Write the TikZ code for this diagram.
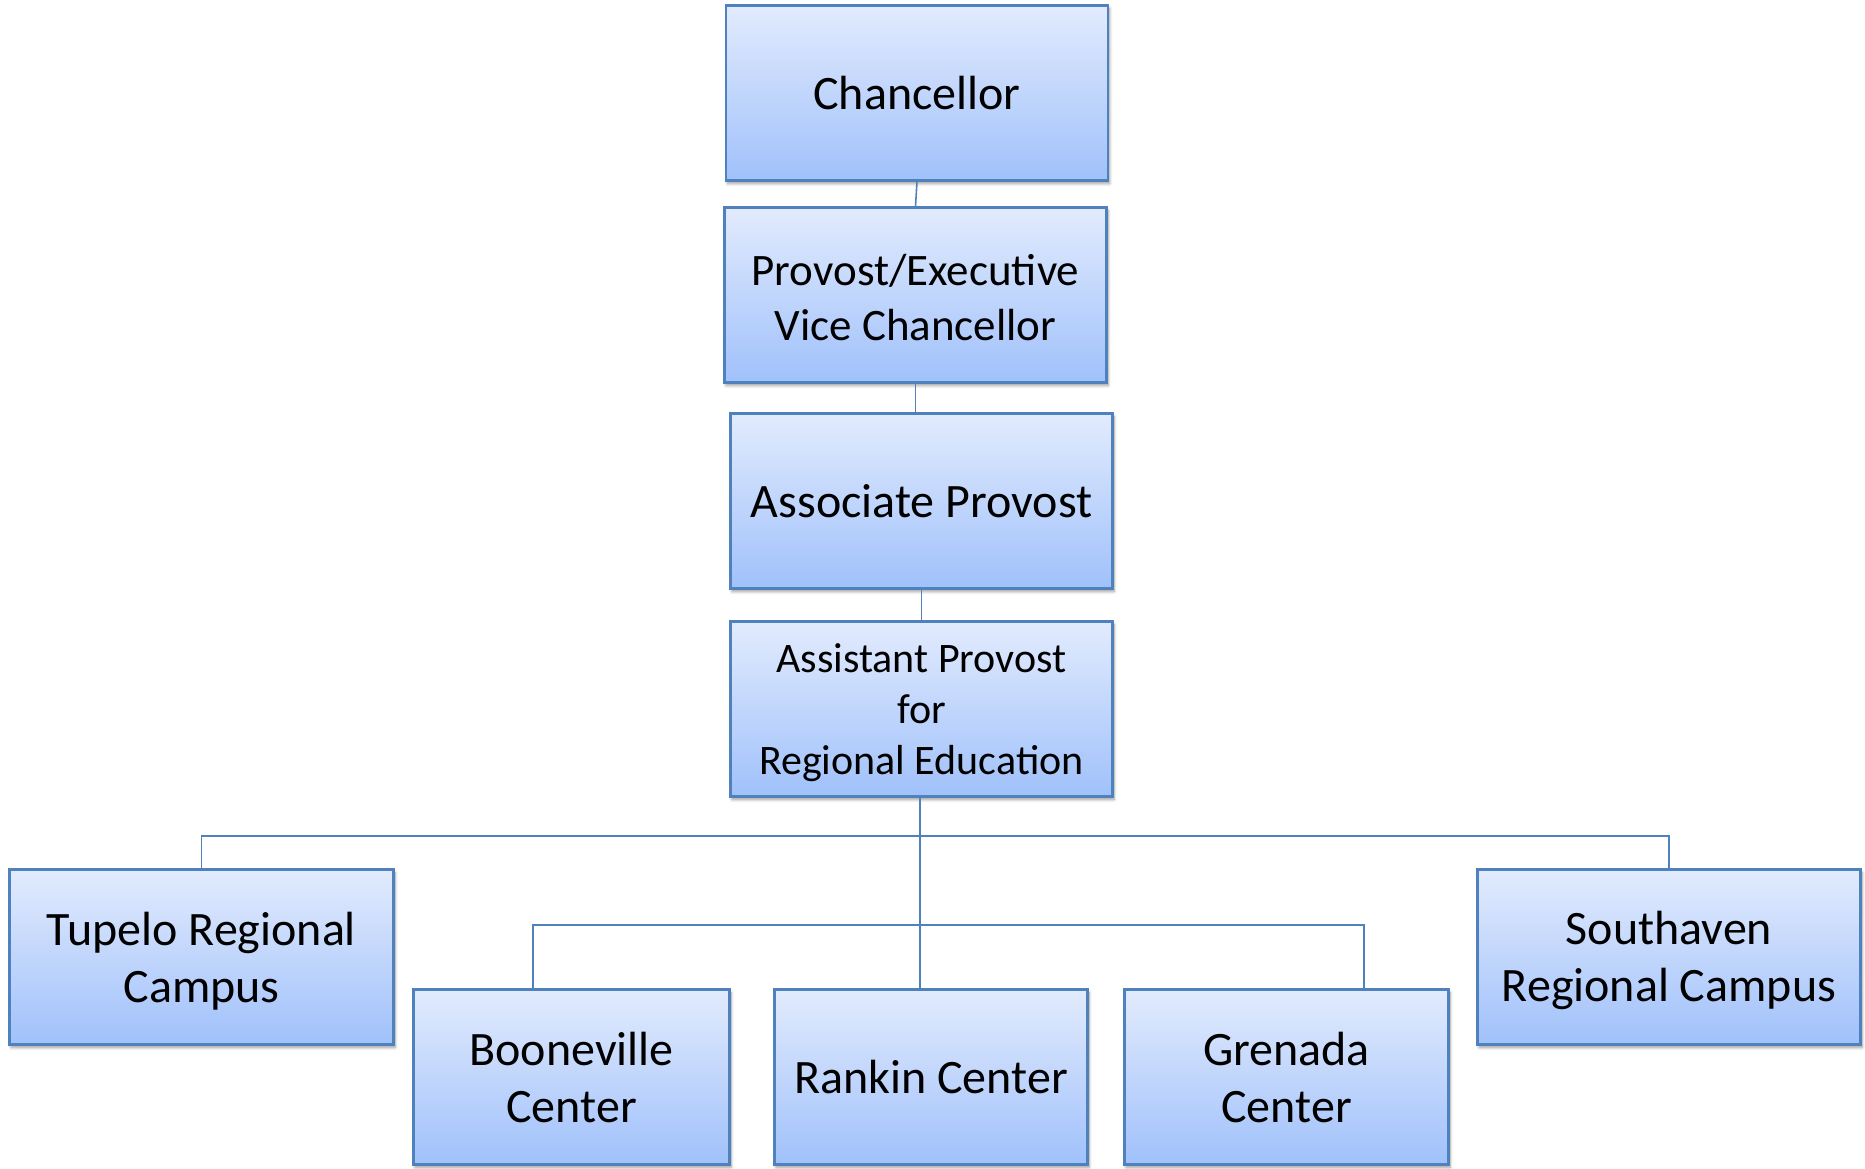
\documentclass[tikz,border=0pt]{standalone}
\usepackage{fontspec}
\setmainfont{Carlito}
\usetikzlibrary{shadows.blur}
\definecolor{boxtop}{RGB}{226,235,253}
\definecolor{boxbot}{RGB}{160,193,251}
\definecolor{boxline}{RGB}{79,129,189}
\tikzset{
  orgbox/.style={draw=boxline, line width=2.2pt, top color=boxtop, bottom color=boxbot,
    minimum width=382pt, minimum height=175pt, align=center, inner sep=0pt,
    font=\fontsize{48}{57}\selectfont,
    blur shadow={shadow xshift=1.5pt, shadow yshift=-3pt, shadow blur radius=3pt, shadow blur steps=6, shadow opacity=40}},
  conn/.style={draw=boxline, line width=1.6pt}
}
\begin{document}
\begin{tikzpicture}[x=1pt,y=1pt]
\useasboundingbox (0,0) rectangle (1865,-1168);
\node[orgbox] (chan) at (917,-93) {Chancellor};
\node[orgbox, font=\fontsize{45}{55}\selectfont] (prov) at (915.5,-295) {\rule{0pt}{36pt}Provost/Executive\\Vice Chancellor};
\node[orgbox] (assoc) at (921.5,-501) {Associate Provost};
\node[orgbox, font=\fontsize{42}{51}\selectfont] (asst) at (921.5,-709) {\rule{0pt}{36pt}Assistant Provost\\for\\Regional Education};
\node[orgbox, minimum width=384pt] (tup) at (201.5,-957) {\rule{0pt}{41pt}Tupelo Regional\\Campus};
\node[orgbox, minimum width=383pt] (south) at (1669,-957) {\rule{0pt}{41pt}Southaven\\Regional Campus};
\node[orgbox, minimum width=316pt] (boon) at (571.5,-1077) {Booneville\\Center};
\node[orgbox, minimum width=313pt] (rank) at (931,-1077) {Rankin Center};
\node[orgbox, minimum width=324pt] (gren) at (1286.5,-1077) {Grenada\\Center};
\coordinate (bus1) at (920,-836);
\coordinate (bus2) at (920,-925);
\coordinate (bus2l) at (533,-925);
\coordinate (bus2r) at (1364,-925);
\draw[conn] (chan.south) -- (prov.north);
\draw[conn] (prov.south) -- (prov.south |- assoc.north);
\draw[conn] (assoc.south) -- (asst.north);
\draw[conn] (asst.south -| bus1) -- (bus1) -- (bus2);
\draw[conn] (tup.north) |- (bus1) -| (south.north);
\draw[conn] (bus2l |- boon.north) -- (bus2l) -- (bus2r) -- (bus2r |- gren.north);
\draw[conn] (bus2) -- (bus2 |- rank.north);
\end{tikzpicture}
\end{document}
